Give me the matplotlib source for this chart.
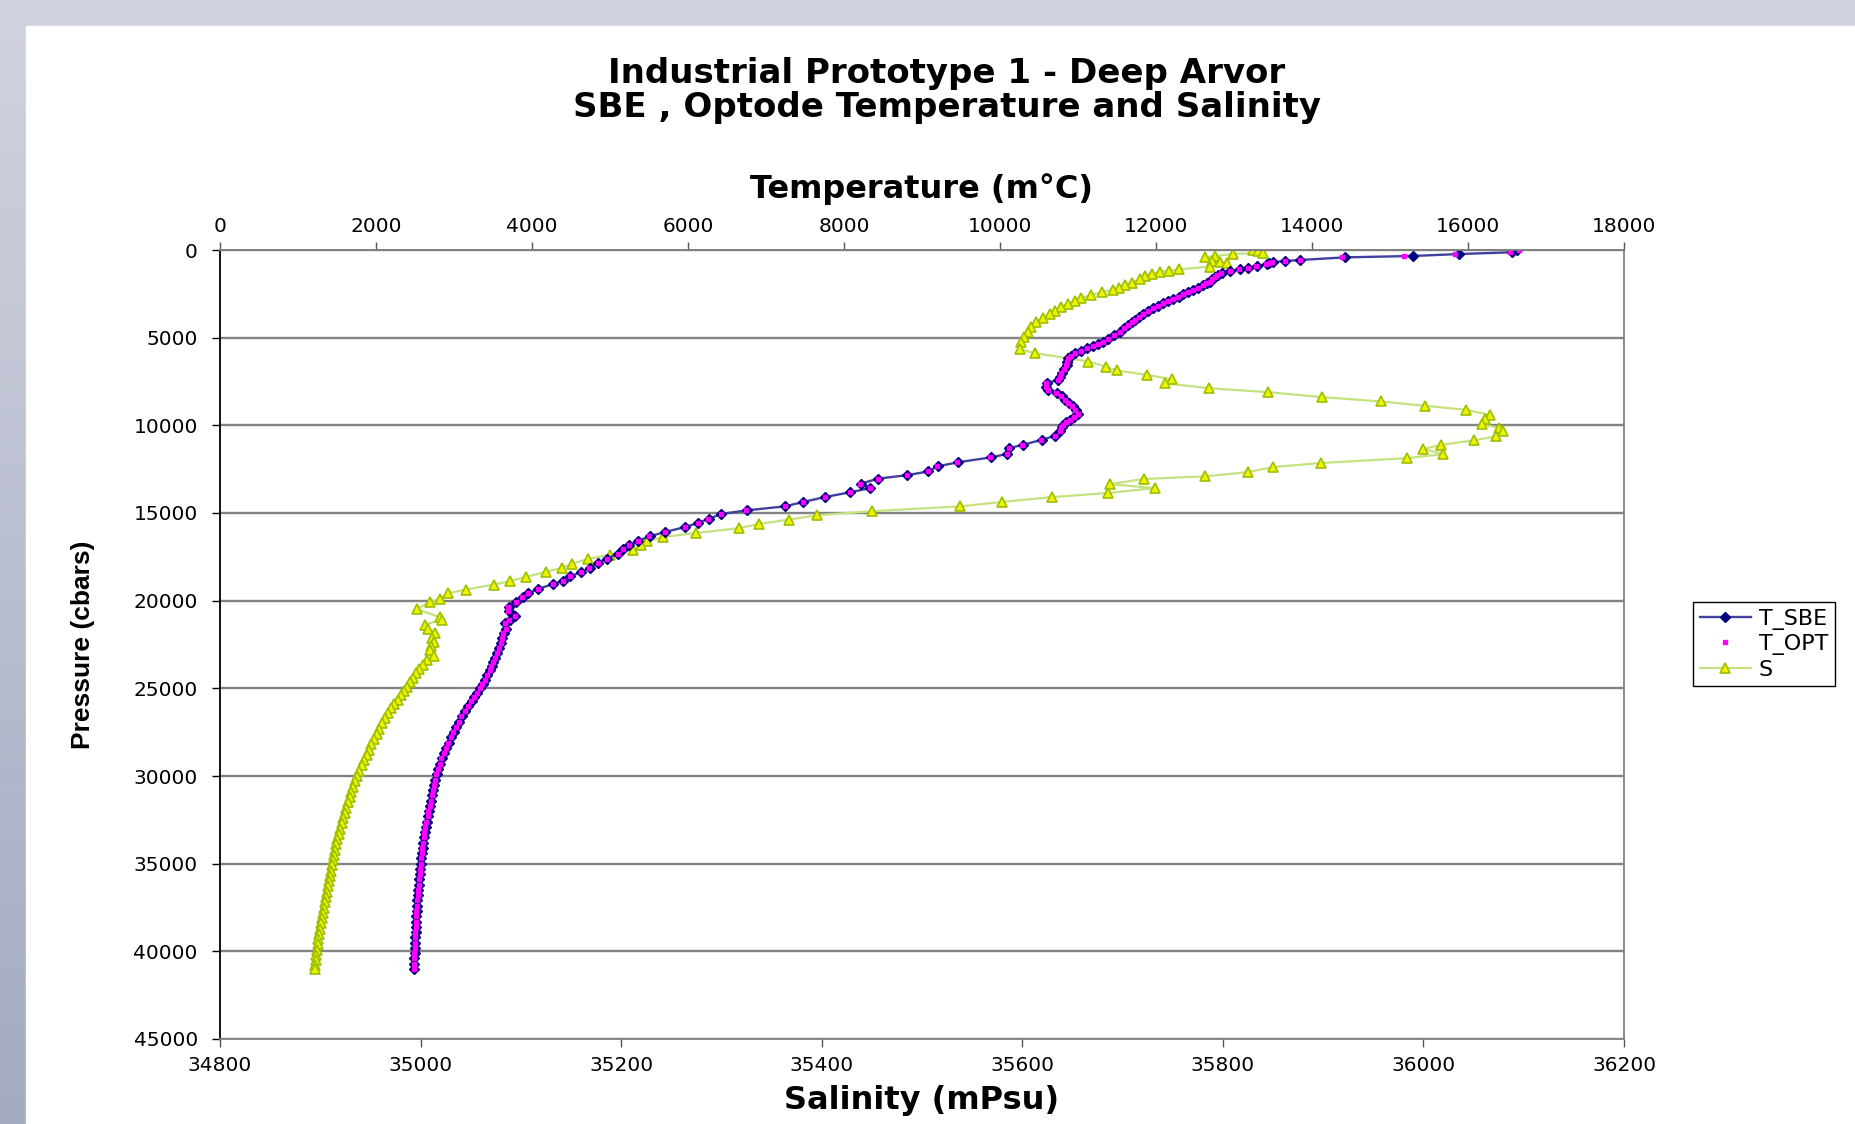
import numpy as np
import matplotlib
matplotlib.use("Agg")
import matplotlib.pyplot as plt
from matplotlib.colors import LinearSegmentedColormap
from matplotlib.patches import Rectangle

# pressure levels (cbars) and temperatures (m°C)
p_t = [0, 130, 230, 340, 420, 570, 630, 690, 760, 820,
       910, 1000, 1100, 1200, 1330, 1420, 1520, 1650, 1800, 1900,
       2000, 2140, 2280, 2400, 2530, 2670, 2810, 2920, 3040, 3180,
       3320, 3480, 3650, 3820, 3990, 4130, 4270, 4460, 4650, 4870,
       5090, 5220, 5350, 5480, 5600, 5750, 5890, 6030, 6170, 6360,
       6550, 6790, 7030, 7220, 7400, 7600, 7820, 7980, 8170, 8350,
       8550, 8740, 8920, 9140, 9340, 9500, 9680, 9830, 9970, 10120,
       10350, 10600, 10830, 11110, 11300, 11630, 11830, 12110, 12340, 12630,
       12840, 13040, 13330, 13580, 13820, 14090, 14370, 14620, 14850, 15060,
       15340, 15570, 15800, 16080, 16330, 16580, 16830, 17060, 17320, 17600,
       17850, 18130, 18360, 18620, 18870, 19040, 19330, 19570, 19800, 20090,
       20370, 20580, 20900, 21080, 21280, 21600, 21850, 22130, 22400, 22690,
       22980, 23250, 23510, 23750, 23980, 24250, 24500, 24750, 25000, 25250,
       25500, 25750, 26010, 26300, 26580, 26900, 27200, 27500, 27800, 28100,
       28400, 28700, 29000, 29300, 29600, 29900, 30200, 30500, 30800, 31100,
       31400, 31700, 32000, 32300, 32600, 32900, 33200, 33500, 33800, 34100,
       34400, 34700, 35000, 35300, 35600, 35900, 36200, 36500, 36800, 37100,
       37400, 37700, 38000, 38300, 38600, 38900, 39200, 39500, 39800, 40100,
       40400, 40700, 41000]

t_sbe = [16623, 16559, 15888, 15299, 14423, 13846, 13653, 13495, 13450, 13419,
         13290, 13180, 13076, 12948, 12841, 12790, 12756, 12720, 12692, 12650,
         12606, 12540, 12478, 12410, 12350, 12290, 12221, 12160, 12093, 12030,
         11965, 11900, 11837, 11780, 11730, 11690, 11645, 11590, 11538, 11460,
         11388, 11320, 11260, 11190, 11119, 11040, 10961, 10910, 10876, 10860,
         10854, 10820, 10790, 10770, 10748, 10598, 10588, 10619, 10726, 10790,
         10830, 10880, 10930, 10970, 11004, 10950, 10897, 10850, 10811, 10790,
         10769, 10705, 10534, 10291, 10119, 10093, 9880, 9457, 9200, 9081,
         8811, 8440, 8213, 8333, 8077, 7756, 7478, 7243, 6752, 6420,
         6265, 6125, 5965, 5707, 5507, 5363, 5245, 5170, 5106, 4960,
         4850, 4740, 4630, 4490, 4395, 4275, 4080, 3955, 3880, 3800,
         3700, 3700, 3785, 3712, 3652, 3670, 3635, 3615, 3600, 3578,
         3555, 3530, 3504, 3482, 3461, 3428, 3397, 3366, 3333, 3300,
         3262, 3225, 3183, 3142, 3098, 3065, 3030, 2996, 2962, 2930,
         2897, 2870, 2842, 2818, 2797, 2776, 2756, 2744, 2730, 2716,
         2703, 2690, 2676, 2664, 2650, 2636, 2624, 2614, 2606, 2598,
         2590, 2581, 2574, 2568, 2562, 2556, 2549, 2542, 2536, 2531,
         2527, 2522, 2518, 2514, 2511, 2507, 2504, 2501, 2498, 2495,
         2492, 2491, 2491]

t_opt = [16660, 16540, 15833, 15183, 14380, 13840, 13650, 13490, 13445, 13415,
         13285, 13176, 13070, 12944, 12838, 12786, 12752, 12716, 12688, 12646,
         12602, 12536, 12474, 12406, 12346, 12286, 12218, 12156, 12090, 12026,
         11962, 11896, 11834, 11777, 11727, 11687, 11642, 11587, 11535, 11457,
         11385, 11317, 11257, 11187, 11116, 11037, 10958, 10907, 10873, 10857,
         10851, 10817, 10787, 10767, 10745, 10595, 10585, 10616, 10723, 10787,
         10827, 10877, 10927, 10967, 11001, 10947, 10894, 10847, 10808, 10787,
         10766, 10702, 10531, 10288, 10116, 10090, 9877, 9454, 9197, 9078,
         8808, 8437, 8210, 8330, 8074, 7753, 7475, 7240, 6749, 6417,
         6262, 6122, 5962, 5704, 5504, 5360, 5242, 5167, 5103, 4957,
         4847, 4737, 4627, 4487, 4392, 4272, 4077, 3952, 3877, 3797,
         3697, 3697, 3782, 3709, 3649, 3667, 3632, 3612, 3597, 3575,
         3552, 3527, 3501, 3479, 3458, 3425, 3394, 3363, 3330, 3297,
         3259, 3222, 3180, 3139, 3095, 3062, 3027, 2993, 2959, 2927,
         2894, 2867, 2839, 2815, 2794, 2773, 2753, 2741, 2727, 2713,
         2700, 2687, 2673, 2661, 2647, 2633, 2621, 2611, 2603, 2595,
         2587, 2578, 2571, 2565, 2559, 2553, 2546, 2539, 2533, 2528,
         2524, 2519, 2515, 2511, 2508, 2504, 2501, 2498, 2495, 2492,
         2489, 2488, 2488]

# salinity profile (mPsu)
p_s = [0, 60, 150, 230, 340, 420, 610, 660, 760, 950,
       1100, 1180, 1230, 1370, 1480, 1670, 1860, 1990, 2150, 2280,
       2410, 2560, 2750, 2910, 3080, 3270, 3460, 3650, 3890, 4080,
       4370, 4650, 4940, 5220, 5660, 5890, 6170, 6360, 6650, 6870,
       7120, 7370, 7600, 7880, 8110, 8390, 8640, 8890, 9110, 9400,
       9650, 9910, 10160, 10350, 10630, 10860, 11110, 11350, 11640, 11870,
       12150, 12380, 12670, 12910, 13060, 13350, 13580, 13860, 14090, 14370,
       14620, 14900, 15130, 15380, 15630, 15860, 16140, 16370, 16610, 16850,
       17090, 17370, 17620, 17890, 18130, 18360, 18640, 18890, 19080, 19370,
       19590, 19900, 20090, 20470, 20940, 21110, 21360, 21610, 21840, 22120,
       22370, 22600, 22790, 23130, 23390, 23650, 23900, 24150, 24400, 24650,
       24900, 25150, 25400, 25650, 25900, 26150, 26400, 26700, 27000, 27300,
       27600, 27900, 28200, 28500, 28800, 29100, 29400, 29700, 30000, 30300,
       30600, 30900, 31200, 31500, 31800, 32100, 32400, 32700, 33000, 33300,
       33600, 33900, 34200, 34500, 34800, 35100, 35400, 35700, 36000, 36300,
       36600, 36900, 37200, 37500, 37800, 38100, 38400, 38700, 39000, 39300,
       39600, 39900, 40200, 40500, 40800, 41000]

sal = [35830, 35835, 35840, 35810, 35792, 35782, 35789, 35797, 35804, 35787,
       35756, 35746, 35737, 35729, 35722, 35717, 35709, 35702, 35696, 35690,
       35679, 35669, 35659, 35653, 35646, 35639, 35633, 35628, 35621, 35614,
       35609, 35606, 35602, 35599, 35598, 35613, 35646, 35666, 35683, 35694,
       35724, 35749, 35742, 35786, 35845, 35899, 35958, 36002, 36042, 36066,
       36061, 36058, 36075, 36079, 36072, 36050, 36018, 36000, 36020, 35984,
       35898, 35850, 35825, 35782, 35721, 35687, 35732, 35685, 35630, 35580,
       35538, 35450, 35395, 35367, 35337, 35318, 35275, 35242, 35226, 35220,
       35212, 35189, 35167, 35151, 35141, 35125, 35105, 35089, 35073, 35045,
       35027, 35019, 35009, 34996, 35019, 35021, 35004, 35007, 35014, 35011,
       35013, 35010, 35009, 35013, 35006, 35002, 34998, 34995, 34992, 34989,
       34986, 34983, 34980, 34977, 34974, 34971, 34968, 34965, 34962, 34959,
       34957, 34954, 34951, 34949, 34947, 34944, 34942, 34939, 34937, 34935,
       34933, 34931, 34930, 34928, 34926, 34925, 34923, 34922, 34920, 34919,
       34917, 34916, 34915, 34914, 34913, 34912, 34911, 34910, 34909, 34908,
       34907, 34906, 34905, 34904, 34903, 34902, 34901, 34900, 34899, 34898,
       34898, 34897, 34896, 34896, 34895, 34895]

sal_ticks = [34800, 35000, 35200, 35400, 35600, 35800, 36000, 36200]
temp_ticks = [0, 2000, 4000, 6000, 8000, 10000, 12000, 14000, 16000, 18000]
pres_ticks = [0, 5000, 10000, 15000, 20000, 25000, 30000, 35000, 40000, 45000]

assert len(p_t) == len(t_sbe) == len(t_opt)
assert len(p_s) == len(sal)

W, H = 1856, 1124
plt.rcParams['font.family'] = ['DejaVu Sans']

fig = plt.figure(figsize=(W / 100, H / 100), dpi=100)

# grey-blue frame with a white panel
bg = fig.add_axes([0, 0, 1, 1], zorder=-10)
grad = np.linspace(0, 1, 256)[:, None]
bg.imshow(grad, aspect='auto', extent=[0, W, H, 0],
          cmap=LinearSegmentedColormap.from_list('frame', ['#d0d3df', '#a4abc1']))
bg.add_patch(Rectangle((26, 26), W - 26, H - 26, color='white'))
bg.set_xlim(0, W)
bg.set_ylim(H, 0)
bg.axis('off')

ax = fig.add_axes([220 / W, 1 - 1039 / H, 1404 / W, 789 / H])
ax_t = ax.twiny()

ln_s, = ax.plot(sal, p_s, color='#c4e37f', lw=1.6, marker='^', ms=7.5,
                mfc='#eef200', mec='#9cbf00', mew=1.2, label='S')
ln_sbe, = ax_t.plot(t_sbe, p_t, color='#4040a0', lw=1.7, marker='D', ms=4.8,
                    mfc='#000080', mec='#000080', label='T_SBE')
ln_opt, = ax_t.plot(t_opt, p_t, ls='none', marker='s', ms=3.0,
                    mfc='#ff00ff', mec='#ff00ff', label='T_OPT')

ax.set_xlim(34800, 36200)
ax.set_ylim(45000, 0)
ax.set_xticks(sal_ticks)
ax.set_xticklabels([str(v) for v in sal_ticks])
ax.set_yticks(pres_ticks)
ax.set_yticklabels([str(v) for v in pres_ticks])
ax_t.set_xlim(0, 18000)
ax_t.set_xticks(temp_ticks)
ax_t.set_xticklabels([str(v) for v in temp_ticks])

ax.yaxis.grid(True, color='#838383', lw=1.7)
ax.set_axisbelow(True)

for side in ['top', 'right', 'bottom']:
    ax.spines[side].set_color('#808080')
    ax.spines[side].set_linewidth(1.3)
ax.spines['left'].set_color('black')
ax.spines['left'].set_linewidth(1.3)
for side in ['left', 'right', 'bottom']:
    ax_t.spines[side].set_visible(False)
ax_t.spines['top'].set_color('#808080')
ax_t.spines['top'].set_linewidth(1.3)

ax.tick_params(axis='y', direction='out', length=6, width=1, color='black',
               pad=10, labelsize=14.5)
ax.tick_params(axis='x', direction='out', length=6, width=1, color='#555555',
               pad=6, labelsize=14.5)
ax_t.tick_params(axis='x', direction='out', length=6, width=1, color='#555555',
                 pad=4, labelsize=14.5)

ax.set_xlabel('Salinity (mPsu)', fontsize=23, fontweight='bold', va='center')
ax.xaxis.set_label_coords(0.5, -61 / 789)
ax_t.set_xlabel('Temperature (m°C)', fontsize=23, fontweight='bold', va='center')
ax_t.xaxis.set_label_coords(0.5, 1 + 61 / 789)

ax.set_ylabel('Pressure (cbars)', family='Liberation Sans', fontsize=19,
              fontweight='bold', va='center')
ax.yaxis.set_label_coords((83 - 220) / 1404, 0.5)

fig.text(947 / W, 1 - 73 / H, 'Industrial Prototype 1 - Deep Arvor',
         ha='center', va='center', fontsize=24.5, fontweight='bold')
fig.text(947 / W, 1 - 107 / H, 'SBE , Optode Temperature and Salinity',
         ha='center', va='center', fontsize=24.5, fontweight='bold')

leg = fig.legend([ln_sbe, ln_opt, ln_s], ['T_SBE', 'T_OPT', 'S'],
                 loc='upper left', bbox_to_anchor=(1693 / W, 1 - 602 / H),
                 bbox_transform=fig.transFigure, fontsize=16, fancybox=False,
                 edgecolor='black', framealpha=1, borderpad=0.3,
                 handlelength=2.3, handletextpad=0.35, labelspacing=0.2,
                 borderaxespad=0, numpoints=1)
leg.get_frame().set_linewidth(1.0)

fig.savefig('out.png', dpi=100)
